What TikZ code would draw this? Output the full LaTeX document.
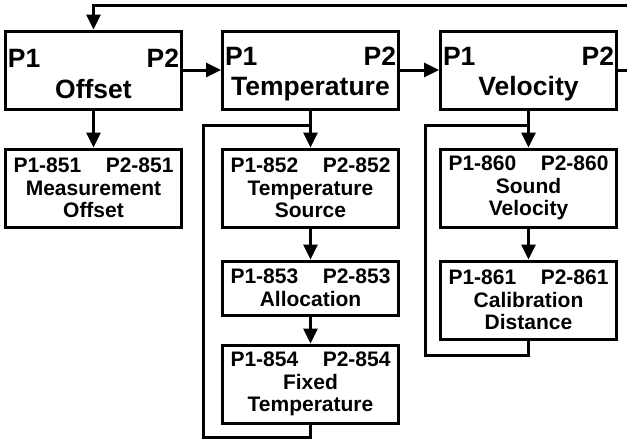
\documentclass[tikz,border=0pt]{standalone}
\usepackage{fontspec}
\setmainfont{Liberation Sans}
\usetikzlibrary{positioning,calc,arrows.meta}

\begin{document}
\begin{tikzpicture}[
    group/.style={rectangle, draw=black, line width=3pt,
                  minimum width=176pt, minimum height=78pt, inner xsep=2.5pt,
                  text width=171pt, text height=26pt, align=center,
                  font=\bfseries\fontsize{26.5}{30.5}\selectfont},
    param/.style={rectangle, draw=black, line width=3pt,
                  minimum width=176pt, minimum height=78pt, inner xsep=8pt, inner ysep=2pt,
                  text width=160pt, align=center,
                  font=\bfseries\fontsize{21}{22.5}\selectfont},
    arrow/.style={-{Triangle[length=15pt, width=14pt]}, line width=3pt},
    wire/.style={line width=3pt}
]

\useasboundingbox (0,0) rectangle (627pt,-439pt);

\node[group] (offset) at (93.5pt,-70pt) {P1\hfill P2\\Offset};
\node[group, right=38pt of offset] (temp) {P1\hfill P2\\Temperature};
\node[group, right=39pt of temp] (velocity) {P1\hfill P2\\Velocity};

\node[param, below=37pt of offset] (measoff) {P1-851\hfill P2-851\\Measurement\\Offset};

\node[param, below=37pt of temp] (tsource) {P1-852\hfill P2-852\\Temperature\\Source};
\node[param, below=31pt of tsource, minimum height=54pt] (alloc) {P1-853\hfill P2-853\\Allocation};
\node[param, below=27pt of alloc] (ftemp) {P1-854\hfill P2-854\\Fixed\\Temperature};

\node[param, below=37pt of velocity] (soundvel) {P1-860\hfill P2-860\\Sound\\Velocity};
\node[param, below=31pt of soundvel] (caldist) {P1-861\hfill P2-861\\Calibration\\Distance};

\draw[arrow] (offset) -- (temp);
\draw[arrow] (temp) -- (velocity);
\draw[arrow] (offset) -- (measoff);
\draw[arrow] (temp) -- (tsource);
\draw[arrow] (tsource) -- (alloc);
\draw[arrow] (alloc) -- (ftemp);
\draw[arrow] (velocity) -- (soundvel);
\draw[arrow] (soundvel) -- (caldist);

% return line, runs off the right edge
\coordinate (top) at ($(offset.north)+(0,24.5pt)$);
\draw[arrow] (velocity.east) -- ++(20pt,0) |- (top) -- (offset.north);

% loops back to the column heads
\coordinate (tjoin) at ($(temp.south)!0.4!(tsource.north)$);
\coordinate (tleft) at ([xshift=-18pt]tsource.west);
\draw[wire] (ftemp.south) -- ++(0,-13pt) -| (tleft |- tjoin) -- (tjoin);

\coordinate (vjoin) at ($(velocity.south)!0.4!(soundvel.north)$);
\coordinate (vleft) at ([xshift=-14pt]soundvel.west);
\draw[wire] (caldist.south) -- ++(0,-15pt) -| (vleft |- vjoin) -- (vjoin);

\end{tikzpicture}
\end{document}
